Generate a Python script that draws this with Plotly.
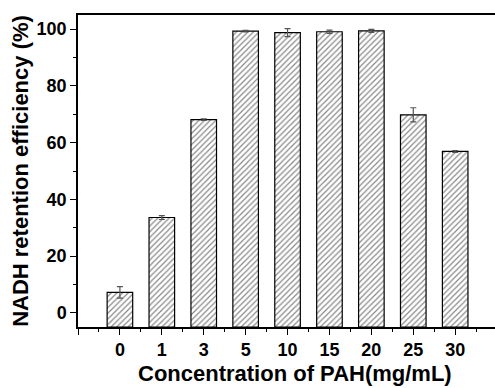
import plotly.graph_objects as go

categories = ["0", "1", "3", "5", "10", "15", "20", "25", "30"]
retention = [7.2, 33.6, 68.1, 99.3, 98.8, 99.1, 99.4, 69.8, 56.9]
errors = [2.0, 0.7, 0.3, 0.3, 1.4, 0.6, 0.5, 2.5, 0.3]

positions = list(range(len(categories)))
y_min, y_max = -5, 105

FONT = "Liberation Sans, Arial, sans-serif"

fig = go.Figure()
# Bars rise from the bottom of the axis (Origin style)
fig.add_trace(go.Bar(
    x=positions,
    y=[v - y_min for v in retention],
    base=y_min,
    width=0.61,
    marker=dict(
        color="white",
        line=dict(color="black", width=1.2),
        pattern=dict(shape="/", fgcolor="#111111", bgcolor="white", size=4, solidity=0.3),
    ),
    hoverinfo="skip",
))
# Error bars at the data values
fig.add_trace(go.Scatter(
    x=positions, y=retention, mode="markers",
    marker=dict(size=1, color="rgba(0,0,0,0)"),
    error_y=dict(type="data", array=errors, visible=True, color="#555555", thickness=1.2, width=3),
))

fig.update_layout(
    width=495, height=388,
    margin=dict(l=78, r=0, t=15, b=61),
    plot_bgcolor="white", paper_bgcolor="white",
    showlegend=False,
    font=dict(family=FONT, color="black"),
    annotations=[dict(
        text="Concentration of PAH(mg/mL)", xref="paper", yref="paper",
        x=0.52, y=0, xanchor="center", yanchor="middle", yshift=-46,
        showarrow=False, font=dict(size=22, weight="bold", family=FONT),
    )],
)
fig.update_xaxes(
    range=[-1, 8.95],
    automargin=False,
    tickmode="array",
    tickvals=[-1] + positions,
    ticktext=[""] + categories,
    ticks="outside", ticklen=6, tickwidth=1.2, tickcolor="black",
    minor=dict(tick0=0.5, dtick=1, ticks="outside", ticklen=3, tickwidth=1.2, tickcolor="black"),
    showline=True, linecolor="black", linewidth=1.5, mirror=True,
    showgrid=False, zeroline=False,
    tickfont=dict(size=18, weight="bold", family=FONT),
)
fig.update_yaxes(
    range=[y_min, y_max],
    automargin=False,
    tickmode="linear", tick0=0, dtick=20,
    ticks="outside", ticklen=6, tickwidth=1.2, tickcolor="black",
    minor=dict(tick0=0, dtick=10, ticks="outside", ticklen=3, tickwidth=1.2, tickcolor="black"),
    showline=True, linecolor="black", linewidth=1.5,
    showgrid=False, zeroline=False,
    tickfont=dict(size=18, weight="bold", family=FONT),
    title=dict(text="NADH retention efficiency (%)", font=dict(size=22, weight="bold", family=FONT), standoff=2),
)

fig.write_html("out.html")
